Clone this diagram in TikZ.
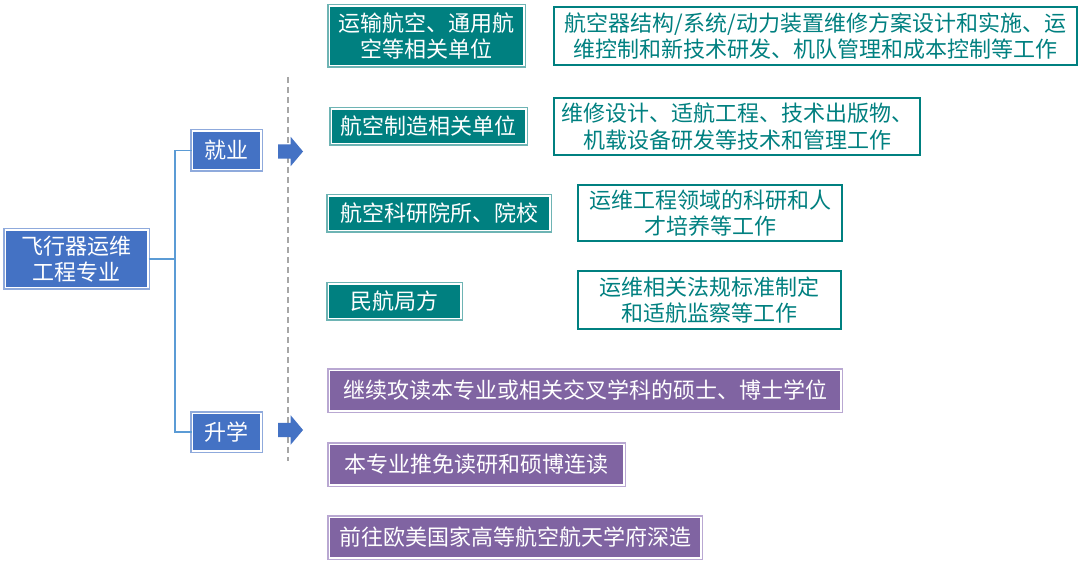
\documentclass[tikz,border=0pt]{standalone}
\usepackage{fontspec}
\setmainfont{Noto Sans CJK SC}
\usetikzlibrary{shapes.arrows}
\definecolor{cblue}{RGB}{68,114,196}
\definecolor{cbluel}{RGB}{143,170,220}
\definecolor{cline}{RGB}{91,155,213}
\definecolor{cteal}{RGB}{0,128,128}
\definecolor{ctealL}{RGB}{110,180,180}
\definecolor{cpurp}{RGB}{128,100,162}
\definecolor{cpurpL}{RGB}{185,168,210}
\definecolor{cdash}{RGB}{166,166,166}
\tikzset{
  x=1pt, y=-1pt,
  txt/.style={font=\fontsize{22pt}{26.5pt}\selectfont, align=center, inner sep=0pt},
  framed/.style={txt, text=white, fill=#1, draw=white, line width=1.5pt,
     preaction={draw=#1L, line width=4.5pt}},
  bluebox/.style={txt, text=white, fill=cblue, draw=white, line width=1.5pt,
     preaction={draw=cbluel, line width=4.5pt}},
  tealbox/.style={framed=cteal},
  purpbox/.style={framed=cpurp},
  descbox/.style={txt, text=cteal, fill=white, draw=cteal, line width=2pt},
  blockarrow/.style={single arrow, fill=cblue, draw=none, inner sep=7pt,
     single arrow head extend=7.5pt, single arrow tip angle=100,
     minimum height=25pt, shape border rotate=0},
  conn/.style={draw=cline, line width=1.5pt},
}
\begin{document}
\begin{tikzpicture}
\useasboundingbox (0,0) rectangle (1080,564);
% main nodes
\node[bluebox, minimum width=142.5pt, minimum height=57.5pt] (main) at (76.5,259) {飞行器运维\\工程专业};
\node[bluebox, minimum width=68.5pt, minimum height=38.5pt] (jy) at (226.5,150.5) {就业};
\node[bluebox, minimum width=68.5pt, minimum height=37.5pt] (sx) at (226.5,432) {升学};
% connectors
\coordinate (br) at (175,259);
\draw[conn] (main.east) -- (br);
\draw[conn] (jy.west) -| (br) |- (sx.west);
% dashed separator
\coordinate (d1) at (288,77);
\coordinate (d2) at (288,461);
\draw[cdash, line width=1.3pt, dash pattern=on 6pt off 4pt] (d1) -- (d2);
% block arrows
\node[blockarrow] (a1) at (287.5,151.5) {};
\node[blockarrow] (a2) at (287.5,430) {};
% employment
\node[tealbox, minimum width=194.5pt, minimum height=59.5pt] (t1) at (426.5,36) {运输航空、通用航\\空等相关单位};
\node[tealbox, minimum width=194.5pt, minimum height=34.5pt] (t2) at (428.5,126.5) {航空制造相关单位};
\node[tealbox, minimum width=221.5pt, minimum height=34.5pt] (t3) at (439,213.5) {航空科研院所、院校};
\node[tealbox, minimum width=132.5pt, minimum height=34.5pt] (t4) at (394.5,301.5) {民航局方};
\node[descbox, minimum width=523pt, minimum height=58pt] (d1b) at (815.5,36) {航空器结构/系统/动力装置维修方案设计和实施、运\\维控制和新技术研发、机队管理和成本控制等工作};
\node[descbox, minimum width=366pt, minimum height=57pt] (d2b) at (737,126.5) {维修设计、适航工程、技术出版物、\\机载设备研发等技术和管理工作};
\node[descbox, minimum width=264pt, minimum height=56pt] (d3b) at (710,213) {运维工程领域的科研和人\\才培养等工作};
\node[descbox, minimum width=263pt, minimum height=58pt] (d4b) at (709.5,300) {运维相关法规标准制定\\和适航监察等工作};
% further study
\node[purpbox, minimum width=511.5pt, minimum height=40.5pt] (p1) at (585,390.5) {继续攻读本专业或相关交叉学科的硕士、博士学位};
\node[purpbox, minimum width=294.5pt, minimum height=40.5pt] (p2) at (476.5,464.5) {本专业推免读研和硕博连读};
\node[purpbox, minimum width=371.5pt, minimum height=40.5pt] (p3) at (515,537.5) {前往欧美国家高等航空航天学府深造};
\end{tikzpicture}
\end{document}
